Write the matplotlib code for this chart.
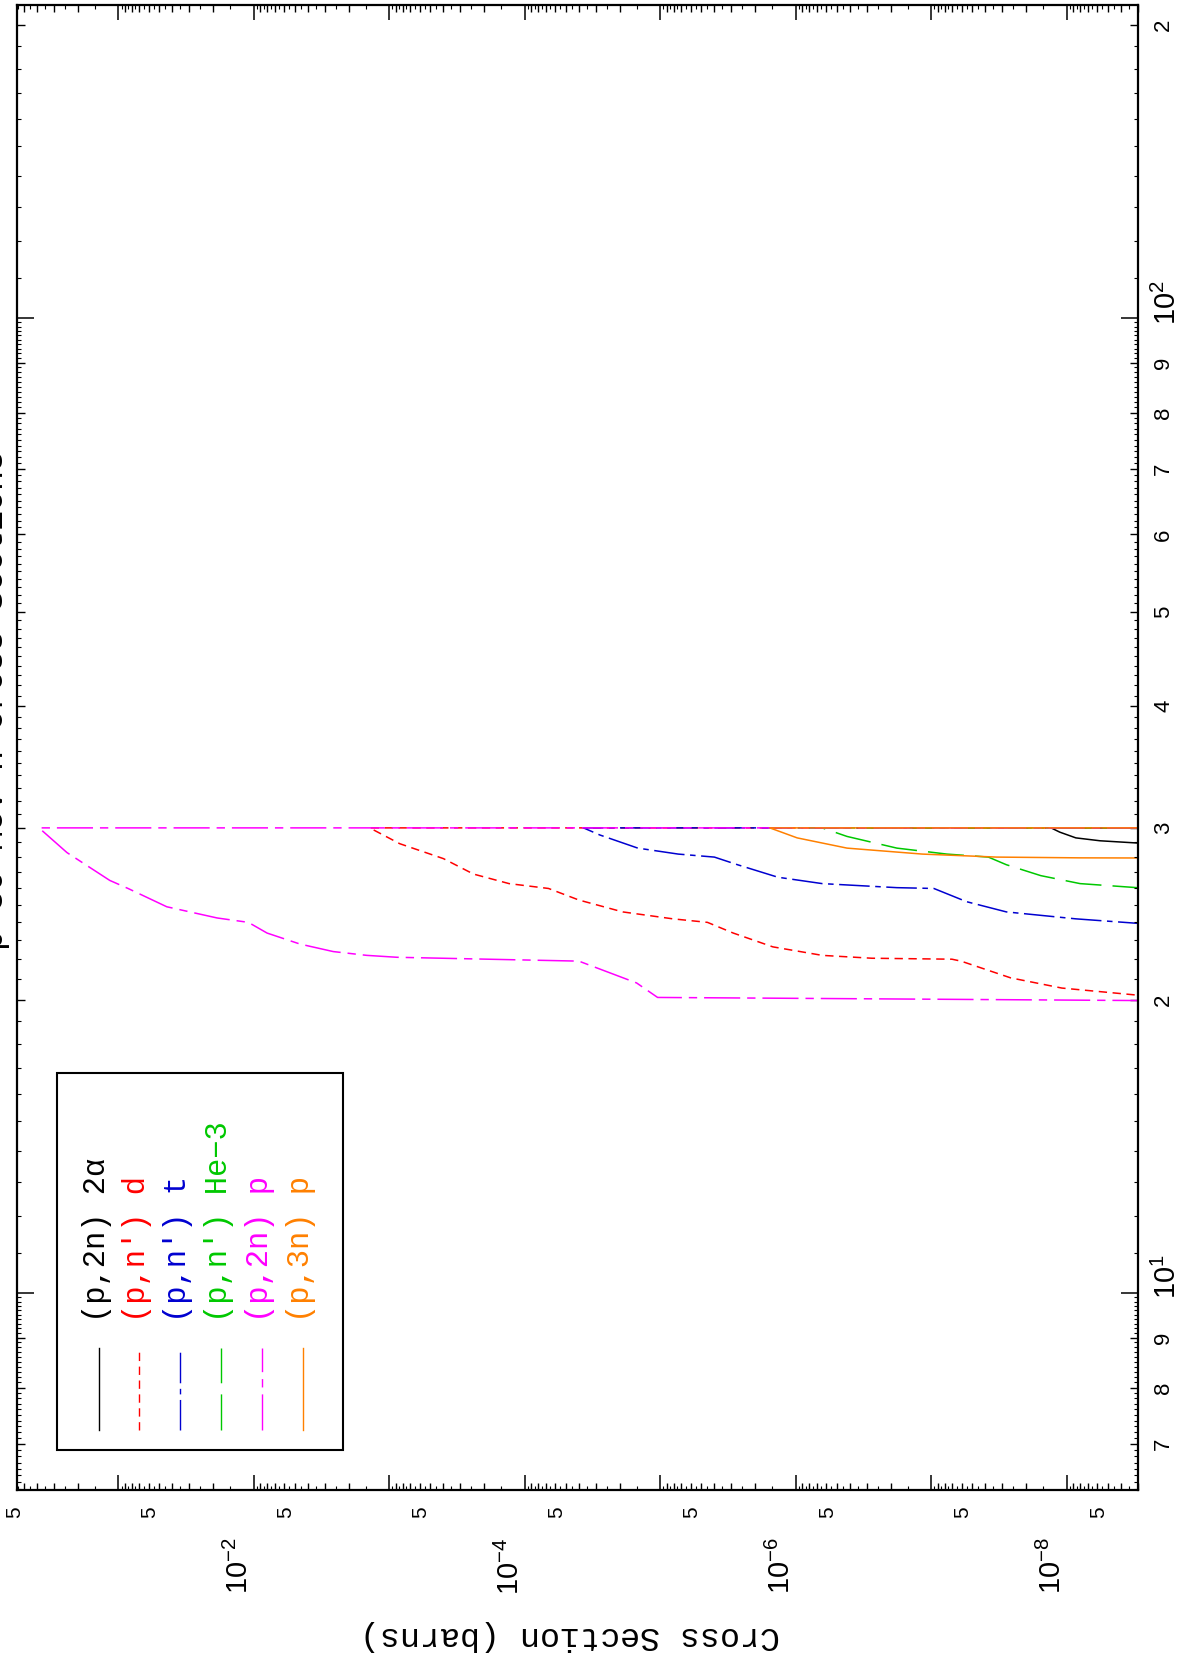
import numpy as np
import matplotlib
matplotlib.use("Agg")
import matplotlib.pyplot as plt
import matplotlib.transforms as mtransforms
from matplotlib.patches import Rectangle

plt.rcParams['lines.scale_dashes'] = False
plt.rcParams['mathtext.fontset'] = 'custom'
plt.rcParams['mathtext.rm'] = 'Liberation Sans'
plt.rcParams['mathtext.it'] = 'Liberation Sans:italic'
plt.rcParams['font.family'] = ['Liberation Sans', 'DejaVu Sans']
MONO = ['Liberation Mono', 'DejaVu Sans Mono']

# ---- data: energy (MeV) and cross section (barns) ----
labels = ["(p,2n) 2\u03b1", "(p,n') d", "(p,n') t", "(p,n') He\u22123", "(p,2n) p", "(p,3n) p"]
colors = ['#000000', '#ff0000', '#0000d0', '#00c800', '#ff00ff', '#ff8000']
styles = [None, (6, 4), (22, 4, 4, 4), (26, 8), (26, 5, 6, 5), None]

e_2n_2a = [28.9, 29.1, 29.3, 29.7, 30.0, 30.0]
s_2n_2a = [2.5e-9, 5.7e-9, 8.6e-9, 1.13e-8, 1.31e-8, 1e-12]

e_n_d = [20.16, 20.55, 21.05, 21.9, 22.0, 22.05, 22.2, 22.65, 23.4, 24.0,
         24.2, 24.6, 25.3, 26.0, 26.3, 26.9, 27.9, 28.9, 30.0, 30.0]
s_n_d = [2.5e-9, 1.09e-8, 2.6e-8, 6.05e-8, 7.06e-8, 2.75e-7, 6.4e-7, 1.48e-6, 2.9e-6, 4.5e-6,
         8.1e-6, 1.9e-5, 4.0e-5, 6.7e-5, 1.31e-4, 2.4e-4, 4.0e-4, 8.4e-4, 1.4e-3, 1e-12]

e_n_t = [23.9, 24.2, 24.6, 25.2, 26.0, 26.05, 26.3, 26.7, 27.5, 28.0, 28.2, 28.6, 29.5, 30.0, 30.0]
s_n_t = [2.5e-9, 8.6e-9, 2.8e-8, 5.5e-8, 9.6e-8, 1.8e-7, 6.4e-7, 1.36e-6, 2.7e-6, 4.0e-6,
         7.4e-6, 1.47e-5, 2.8e-5, 3.7e-5, 1e-12]

e_n_he3 = [26.0, 26.3, 26.8, 27.5, 28.0, 28.2, 28.6, 29.4, 30.0, 30.0]
s_n_he3 = [2.5e-9, 8.0e-9, 1.56e-8, 2.8e-8, 3.8e-8, 7.7e-8, 1.8e-7, 4.2e-7, 6.4e-7, 1e-12]

e_2n_p = [19.95, 20.1, 20.8, 21.9, 22.1, 22.2, 22.4, 22.8, 23.4, 24.0,
          24.25, 24.9, 26.0, 26.5, 28.3, 30.0, 30.0]
s_2n_p = [2.5e-9, 1.05e-5, 1.5e-5, 4.0e-5, 8.8e-4, 1.47e-3, 2.6e-3, 4.57e-3, 8.0e-3, 1.1e-2,
          1.87e-2, 4.4e-2, 8.5e-2, 0.116, 0.24, 0.386, 1e-12]

e_3n_p = [27.94, 27.95, 28.0, 28.2, 28.6, 29.3, 30.0, 30.0]
s_3n_p = [2.5e-9, 8e-9, 3.3e-8, 1.17e-7, 4.2e-7, 9.8e-7, 1.56e-6, 1e-12]

energies = [e_2n_2a, e_n_d, e_n_t, e_n_he3, e_2n_p, e_3n_p]
sigmas = [s_2n_2a, s_n_d, s_n_t, s_n_he3, s_2n_p, s_3n_p]

sig_lim = (0.561, 2.99e-9)   # cross section axis (runs right to left)
e_lim = (6.28, 209.5)        # energy axis (runs bottom to top)

# ---- figure (landscape plot turned on its side) ----
fig = plt.figure(figsize=(12, 16.63), dpi=100)
W, H = 1200, 1663
ax = fig.add_axes([17 / W, 1 - 1490 / H, 1121 / W, 1485 / H])
ax.set_xscale('log')
ax.set_yscale('log')

for e, s, c, d in zip(energies, sigmas, colors, styles):
    if d is None:
        ax.plot(s, e, color=c, lw=1.1)
    else:
        ax.plot(s, e, color=c, lw=1.1, dashes=d)

# ticks: cross section axis
xmaj = [10.0 ** k for k in range(-9, 0)]
xmaj_lab = ['$10^{%d}$' % k if k in (-2, -4, -6, -8) else '' for k in range(-9, 0)]
xmin = [m * 10.0 ** k for k in range(-9, 0) for m in range(2, 10)]
xmin_lab = ['5' if m == 5 else '' for k in range(-9, 0) for m in range(2, 10)]
ax.set_xticks(xmaj, xmaj_lab, rotation=90, ha='right', va='top')
ax.set_xticks(xmin, xmin_lab, minor=True, rotation=90, ha='right', va='top')

# ticks: energy axis
ymaj = [10.0, 100.0]
ymaj_lab = ['$10^{1}$', '$10^{2}$']
ymin = [m * 10.0 ** k for k in range(0, 3) for m in range(2, 10)]
ymin_lab = [str(m) for k in range(0, 3) for m in range(2, 10)]
ax.set_yticks(ymaj, ymaj_lab, rotation=90, ha='left', va='center')
ax.set_yticks(ymin, ymin_lab, minor=True, rotation=90, ha='left', va='center')

ax.tick_params(which='both', direction='in', top=True, bottom=True, left=True, right=True,
               labelleft=False, labelright=True, labeltop=False, labelbottom=True)
ax.tick_params(axis='x', which='major', length=11, width=1.1, pad=34, labelsize=21)
ax.tick_params(axis='x', which='minor', length=5, width=1.0, pad=12, labelsize=15)
ax.tick_params(axis='y', which='major', length=12, width=1.1, pad=11, labelsize=21)
ax.tick_params(axis='y', which='minor', length=6, width=1.0, pad=11, labelsize=16)
for lab in ax.yaxis.get_majorticklabels():
    lab.set_transform(lab.get_transform()
                      + mtransforms.ScaledTranslation(0, 0.16, fig.dpi_scale_trans))

ax.set_xlim(*sig_lim)
ax.set_ylim(*e_lim)
for sp in ax.spines.values():
    sp.set_linewidth(1.6)

# finer tick marks on an overlay axes
ax2 = fig.add_axes(ax.get_position(), frameon=False, label='fine')
ax2.set_xscale('log')
ax2.set_yscale('log')
ax2.set_xticks([(m + 0.5) * 10.0 ** k for k in range(-9, 0) for m in range(1, 10)])
ax2.set_yticks([(m + f / 10) * 10.0 ** k for k in range(0, 3)
                for m in range(1, 10) for f in range(1, 10)])
ax2.minorticks_off()
ax2.tick_params(which='major', direction='in', length=3, width=0.8,
                top=True, bottom=True, left=True, right=True,
                labelbottom=False, labelleft=False, labeltop=False, labelright=False)
ax2.set_xlim(*sig_lim)
ax2.set_ylim(*e_lim)

# axis label and (cut off at the page edge) title
ax.set_xlabel('Cross Section (barns)', rotation=180, fontsize=24, family=MONO)
ax.xaxis.set_label_coords(0.4933, -0.0983)
ax.xaxis.label.set_va('center')
fig.text(10 / W, 1 - 700 / H, 'p 30 MeV-h Cross Sections', rotation=90,
         ha='right', va='center', fontsize=24, family=MONO)

# legend, drawn sideways
def axc(px, py):
    return (px - 17) / 1121, (1490 - py) / 1485

x0, y0 = axc(57, 1450)
x1, y1 = axc(343, 1073)
ax.add_patch(Rectangle((x0, y0), x1 - x0, y1 - y0, transform=ax.transAxes,
                       facecolor='white', edgecolor='black', lw=1.5, zorder=5))
col_px = [99, 139, 180, 221, 262, 303]
for px, lab, c, d in zip(col_px, labels, colors, styles):
    lx, ly0 = axc(px, 1430)
    _, ly1 = axc(px, 1348)
    kw = dict(color=c, lw=1.0, transform=ax.transAxes, zorder=6, clip_on=False)
    if d is not None:
        kw['dashes'] = d
    ax.plot([lx, lx], [ly0, ly1], **kw)
    tx, ty = axc(px - 2, 1322)
    ax.text(tx, ty, lab, color=c, rotation=90, ha='center', va='bottom',
            fontsize=22, family=MONO, transform=ax.transAxes, zorder=6)

fig.savefig('out.png', dpi=100)
